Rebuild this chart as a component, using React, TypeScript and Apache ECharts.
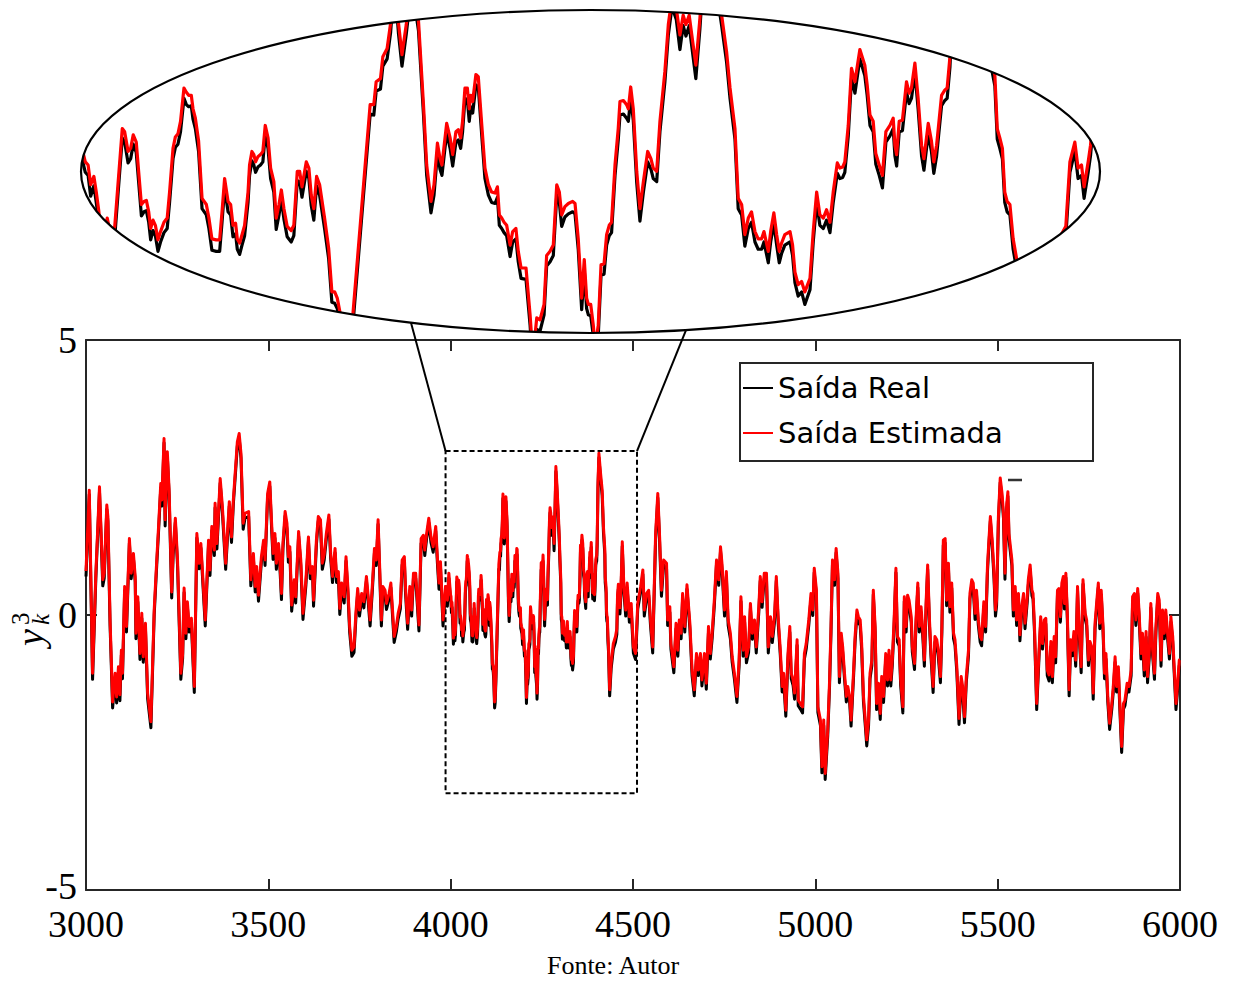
import React, { useEffect, useRef } from "react";
import * as echarts from "echarts";

// ---------------- DATA ----------------
const nomesSeries = ["Saída Real", "Saída Estimada"];
const textoFonte = "Fonte: Autor";
const eixoX = { min: 3000, max: 6000, passo: 500 };
const eixoY = { min: -5, max: 5, passo: 5 };
// region that is magnified (dashed rectangle) and the range shown inside the lens
const regiaoZoom = { x0: 3986, x1: 4511, y0: -3.24, y1: 2.98 };
const lenteX = [3997.6, 4471.6];
const lenteY = [-1.275, 1.83];

const saidaEstimada: [number, number][] = [
[3000,0.80],[3009,2.27],[3018,-1.06],[3027,0.76],[3037,2.33],[3046,0.64],[3050,0.76],[3057,2.00],[3060,1.79],[3066,-0.09],
[3073,-1.58],[3080,-1.06],[3084,-1.49],[3089,-0.94],[3093,-1.45],[3097,-0.64],[3100,-1.06],[3106,0.52],[3111,-0.21],[3119,1.39],
[3124,0.76],[3130,1.12],[3135,0.70],[3137,-0.33],[3142,0.33],[3148,-0.70],[3153,0.03],[3157,-0.76],[3163,-0.15],[3169,-1.42],
[3178,-1.94],[3187,0.09],[3194,1.00],[3199,1.61],[3205,2.39],[3208,2.09],[3214,3.21],[3217,1.73],[3223,2.97],[3228,2.27],
[3235,0.42],[3239,1.18],[3245,1.76],[3251,1.00],[3260,-1.06],[3265,-0.70],[3269,0.49],[3274,-0.33],[3278,0.24],[3283,-0.21],
[3289,-0.06],[3297,-1.30],[3304,1.48],[3310,0.94],[3315,1.30],[3327,-0.09],[3336,1.36],[3340,0.82],[3345,1.61],[3352,1.18],
[3354,2.03],[3359,1.30],[3368,2.48],[3374,1.97],[3383,0.94],[3393,2.06],[3399,1.42],[3404,2.09],[3415,3.15],[3420,3.30],
[3425,2.94],[3431,1.67],[3436,1.85],[3446,1.88],[3452,0.64],[3459,1.12],[3464,0.52],[3468,0.88],[3473,0.36],[3481,1.06],
[3487,1.36],[3491,1.00],[3498,2.21],[3504,2.42],
[3509,1.67],[3513,1.12],[3518,1.48],[3522,0.94],[3528,1.30],[3531,1.06],[3536,0.39],[3540,1.30],[3546,1.88],[3551,1.67],
[3555,1.06],[3559,1.24],[3564,0.18],[3571,0.64],[3575,0.33],[3583,1.52],[3589,1.00],[3595,0.03],[3603,0.64],[3610,1.42],
[3615,0.76],[3621,0.88],[3624,0.27],[3632,1.39],[3637,1.79],[3643,1.73],[3648,0.94],[3653,1.09],[3659,1.48],[3666,1.82],
[3671,1.12],[3676,0.70],[3683,1.21],[3687,0.70],[3692,0.79],[3696,0.12],[3701,0.58],[3708,0.33],[3713,1.06],[3718,0.52],
[3723,-0.21],[3729,-0.64],[3735,-0.58],[3740,0.03],[3745,0.48],[3750,0.09],[3756,0.39],[3762,0.24],[3769,0.70],[3774,0.33],
[3779,-0.09],[3785,0.52],[3791,1.21],[3796,1.00],[3801,1.73],[3805,0.94],[3810,-0.09],[3814,0.52],[3820,0.45],[3824,0.21],
[3831,0.39],[3836,0.58],[3840,0.15],[3845,-0.39],[3851,-0.21],[3856,0.03],[3862,0.21],[3867,1.00],[3873,1.06],[3876,0.52],
[3882,-0.15],[3888,0.52],[3893,0.09],[3898,0.76],[3904,0.76],[3913,-0.18],[3919,1.39],[3925,1.45],[3929,1.18],[3934,1.48],
[3940,1.76],[3946,1.42],[3952,1.24],[3959,1.61],[3964,1.00],[3968,0.58],[3972,0.97],[3979,-0.09],[3986,0.52],[3991,0.27],
[3995,0.76],
[3999.6,0.37],[4000.9,0.34],[4002.1,0.15],[4003.6,0.23],[4004.7,0.08],[4005.8,-0.09],[4007.5,-0.42],[4009.8,-0.17],[4011.7,-0.36],[4013.3,-0.25],
[4016.8,0.69],[4017.9,0.66],[4019.5,0.47],[4020.7,0.50],[4021.9,0.63],[4023.3,0.56],[4024.4,0.28],[4025.7,-0.04],[4026.9,-0.01],[4028.0,0.00],
[4029.1,-0.11],[4030.0,-0.27],[4031.1,-0.19],[4032.2,-0.24],[4033.4,-0.38],[4034.6,-0.30],[4036.2,-0.21],[4037.7,-0.17],[4038.8,0.08],[4040.4,0.50],
[4041.5,0.61],[4042.7,0.64],[4043.9,0.76],[4045.5,1.08],[4046.6,1.04],[4047.7,1.01],[4048.9,1.01],[4049.7,0.88],[4050.8,0.79],[4052.3,0.57],
[4053.9,0.02],[4055.9,-0.04],[4057.1,-0.17],[4058.5,-0.37],[4060.5,-0.38],[4062.1,-0.38],[4063.2,-0.11],[4064.4,0.21],[4066.0,-0.01],[4067.2,-0.04],
[4068.3,-0.24],[4069.5,-0.22],[4070.3,-0.37],[4071.4,-0.41],[4072.5,-0.33],[4073.7,-0.24],[4075.3,0.08],[4076.0,0.34],[4077.1,0.47],[4078.0,0.44],
[4078.8,0.37],[4079.9,0.42],[4081.1,0.44],[4082.2,0.47],[4083.3,0.72],[4084.6,0.60],[4085.8,0.31],[4087.3,0.18],[4088.4,-0.17],[4089.7,-0.04],
[4090.8,0.10],[4092.0,-0.08],[4093.5,-0.25],[4095.4,-0.29],[4096.6,-0.24],[4098.2,0.28],[4099.3,0.28],[4100.4,0.13],[4102.4,0.37],[4103.6,0.31],
[4104.7,0.05],[4105.9,-0.08],[4107.2,0.23],[4108.6,0.15],[4110.9,-0.17],[4112.8,-0.46],[4114.3,-0.88],[4115.6,-0.88],[4116.8,-0.94],[4118.2,-1.09],
[4120.5,-1.58],[4122.0,-1.50],[4124.1,-1.09],[4132.1,0.92],[4133.8,0.92],[4134.9,1.14],[4136.9,1.17],[4138.0,1.38],[4140.0,1.46],[4141.6,1.70],
[4143.4,2.20],[4145.3,1.70],[4146.9,1.40],[4148.9,1.69],[4151.5,2.15],[4154.6,1.72],[4156.9,0.92],[4158.4,0.34],[4160.4,-0.01],[4161.8,0.15],
[4163.4,0.55],[4164.6,0.40],[4165.5,0.34],[4167.7,0.74],[4169.3,0.60],[4170.5,0.44],[4172.0,0.66],[4173.1,0.68],[4174.2,0.60],[4175.1,0.76],
[4176.2,1.08],[4177.3,1.08],[4178.2,0.88],[4178.9,1.01],[4179.8,0.95],[4181.3,1.21],[4182.4,1.19],[4184.0,0.73],[4185.5,0.31],[4187.1,0.15],
[4188.6,0.08],[4190.2,0.07],[4191.3,0.13],[4192.2,-0.14],[4193.3,-0.17],[4194.4,-0.21],[4195.6,-0.24],[4197.2,-0.43],[4198.4,-0.30],[4199.9,-0.27],
[4201.0,-0.49],[4202.3,-0.65],[4204.6,-0.65],[4206.5,-1.10],[4207.8,-1.50],[4209.6,-1.13],[4211.1,-1.15],[4213.0,-1.00],[4214.2,-0.53],[4215.8,-0.49],
[4217.3,-0.43],[4218.9,0.15],[4220.1,0.08],[4221.2,-0.14],[4222.7,-0.06],[4224.3,-0.03],[4226.3,-0.01],[4227.4,-0.03],[4228.9,-0.37],[4230.5,-0.94],
[4231.7,-0.57],[4232.8,-0.94],[4233.6,-1.00],[4234.7,-1.00],[4235.9,-1.20],[4236.8,-1.42],[4238.2,-1.20],[4239.5,-0.62],[4240.9,-0.61],[4242.1,-0.33],
[4243.3,-0.24],[4244.4,-0.21],[4246.0,0.34],[4247.5,0.69],[4248.3,0.95],[4249.9,0.96],[4251.4,0.92],[4252.2,0.88],[4253.3,1.09],[4254.5,0.88],
[4256.1,0.28],[4257.6,-0.08],[4259.2,0.18],[4261.2,0.47],[4262.7,0.40],[4263.8,0.31],[4265.4,0.28],[4266.9,0.76],[4269.2,1.24],[4270.8,1.69],
[4272.5,1.95],[4274.5,1.85],[4276.2,1.59],[4277.7,1.78],[4279.0,1.69],[4280.5,1.78],[4283.6,1.30],[4285.5,1.75],[4288.5,2.70],[4291.5,2.35],
[4295.6,1.78],[4297.9,1.43],[4299.5,1.08],[4301.8,0.69],[4303.3,0.02],[4304.9,-0.04],[4306.4,-0.33],[4308.0,-0.17],[4309.5,-0.11],[4311.1,-0.30],
[4312.6,-0.37],[4314.2,-0.37],[4315.3,-0.30],[4317.3,-0.49],[4318.4,-0.30],[4319.9,-0.12],[4321.2,-0.33],[4322.4,-0.49],[4323.5,-0.41],[4325.0,-0.33],
[4327.4,-0.30],[4328.6,-0.43],[4329.7,-0.69],[4331.2,-0.81],[4332.8,-0.78],[4334.3,-0.88],[4336.7,-0.75],[4338.2,-0.30],[4339.8,0.08],[4341.3,-0.14],
[4342.9,-0.17],[4344.4,-0.09],[4346.0,-0.21],[4347.5,0.08],[4349.4,0.36],[4350.6,0.31],[4351.9,0.32],[4352.9,0.37],[4354.5,0.72],[4356.0,1.27],
[4357.6,1.14],[4359.9,1.45],[4362.2,1.30],[4363.3,1.11],[4364.6,0.82],[4366.1,0.76],[4367.3,0.45],[4368.9,0.34],[4370.4,0.24],[4372.0,0.66],
[4373.9,0.72],[4375.4,0.79],[4376.2,0.53],[4377.0,0.44],[4378.2,0.76],[4379.7,0.77],[4381.6,1.14],[4382.8,1.03],[4383.9,1.08],[4385.5,1.32],
[4387.0,0.98],[4388.6,0.53],[4389.7,0.40],[4391.7,0.74],[4393.2,0.57],[4394.3,0.37],[4395.6,0.53],[4397.9,1.01],[4399.4,1.06],[4400.5,1.08],
[4401.8,1.38],[4404.0,2.40],[4406.5,2.94],[4411.0,2.58],[4415.5,2.27],[4419.0,1.60],[4422.7,1.20],[4423.8,0.69],[4425.0,0.60],[4426.2,0.50],
[4427.3,0.08],[4428.4,-0.01],[4429.7,-0.04],[4431.2,-0.37],[4432.8,-0.56],[4436.0,-1.36],[4440.0,-0.88],[4446.0,-0.52],[4452.0,-0.39],[4455.7,-0.25],
[4457.6,0.37],[4459.9,0.56],[4461.4,0.31],[4463.0,0.34],[4464.2,0.13],[4466.1,0.37],[4467.2,0.53],
[4470.6,1.33],[4475,0.52],[4480,0.09],[4484,0.58],[4490,-0.03],[4495,0.21],[4501,-0.58],[4507,-0.70],[4513,0.21],[4521,0.52],
[4527,0.82],[4531,0.09],[4537,0.39],[4543,0.45],[4548,-0.09],[4554,-0.58],[4562,1.48],[4568,2.21],[4573,1.42],[4578,0.45],
[4584,1.00],[4592,0.94],[4595,-0.09],[4601,0.15],[4604,-0.52],[4612,-0.94],[4618,-0.15],[4623,-0.64],[4627,-0.09],[4632,-0.33],
[4636,0.39],[4642,-0.21],[4648,0.55],[4656,-0.15],[4662,-1.00],[4668,-1.36],[4674,-0.70],[4679,-1.00],[4685,-0.70],[4689,-1.18],
[4696,-0.70],[4701,-1.24],[4707,-0.21],[4712,-0.70],[4717,-0.33],[4723,0.27],[4729,1.00],[4735,0.64],[4740,1.24],[4744,0.94],
[4751,0.09],[4756,0.79],[4761,-0.09],[4767,-0.33],[4772,-0.76],[4778,-1.06],[4785,-1.48],[4791,-0.82],[4796,0.33],[4802,-0.64],
[4806,-0.03],[4811,-0.76],[4817,-0.58],[4822,0.21],[4827,-0.33],[4833,-0.09],[4838,-0.58],[4845,0.15],[4849,0.70],[4854,0.24],
[4860,0.76],[4866,0.76],[4871,-0.58],[4877,-0.03],[4882,-0.39],[4888,-0.03],[4893,0.70],[4898,-0.03],[4904,-0.64],[4909,-1.30],
[4913,-1.06],[4919,-1.73],[4925,-0.70],[4930,-0.21],[4934,-1.06],[4939,-1.18],[4943,-1.42],[4950,-0.45],[4953,-1.55],[4959,-1.61],
[4965,-1.67],[4970,-0.70],[4975,-0.52],[4982,-0.09],[4988,0.39],[4993,0.09],[4997,0.85],[5003,0.45],[5007,-1.67],[5014,-1.91],
[5018,-2.76],[5023,-1.91],[5027,-2.88],[5034,-2.10],[5039,-1.20],[5043,-0.21],[5047,1.00],[5053,0.64],[5057,1.21],[5062,0.76],
[5066,-1.12],[5071,-0.33],[5075,-0.58],[5080,-1.06],[5085,-1.48],[5089,-1.30],[5094,-1.48],[5098,-1.91],[5105,-1.00],[5109,-0.39],
[5114,0.09],[5118,-0.03],[5123,-0.09],[5127,-0.52],[5132,-1.48],[5137,-1.91],[5141,-2.27],[5146,-1.91],[5150,-1.06],[5155,-0.82],
[5159,0.45],[5164,-0.21],[5168,-1.61],[5173,-1.24],[5178,-1.79],[5182,-1.12],[5187,-1.48],[5193,-0.70],[5198,-1.18],[5202,-0.64],
[5207,-1.18],[5211,-0.82],[5216,-0.09],[5221,0.85],[5225,-0.39],[5230,-0.45],[5234,-1.18],[5240,-1.67],[5244,0.33],[5249,-0.21],
[5253,0.36],[5257,0.27],[5263,-0.03],[5266,-0.58],[5272,-0.88],[5276,-0.09],[5281,0.58],[5285,-0.21],[5290,0.15],[5295,-0.33],
[5299,-0.82],[5304,0.27],[5308,0.91],[5313,-0.09],[5317,-0.64],[5323,-1.30],[5328,-0.39],[5333,-0.45],[5337,-0.64],[5343,-1.12],
[5347,-0.21],[5351,1.36],[5356,1.39],[5360,0.27],[5365,0.94],[5369,0.15],[5374,0.58],[5379,-0.33],[5383,-0.45],[5388,-0.94],
[5394,-1.88],[5400,-1.12],[5404,-1.30],[5409,-1.85],[5414,-1.12],[5420,-0.64],[5424,0.39],[5429,0.64],[5433,0.58],[5438,0.03],
[5442,0.45],[5447,-0.09],[5452,-0.39],[5456,-0.45],[5462,0.24],[5467,-0.21],[5472,0.88],[5476,1.36],[5480,1.79],[5485,1.36],
[5490,0.76],[5494,0.09],[5497,0.27],[5502,1.79],[5507,2.49],[5512,2.21],[5516,1.85],[5520,0.76],[5525,2.03],[5528,2.24],
[5531,1.48],[5535,1.24],[5539,1.00],[5543,0.09],[5548,0.52],[5552,-0.09],[5557,0.39],[5561,-0.36],[5566,0.15],[5571,0.39],
[5575,-0.15],[5581,0.33],[5584,0.64],[5589,0.91],[5594,0.45],[5597,0.39],[5601,-0.21],[5607,-1.61],[5614,-0.58],[5618,-0.03],
[5623,-0.52],[5628,-0.09],[5632,-0.06],[5636,-1.00],[5641,-1.09],[5646,-0.48],[5650,-1.12],[5655,-0.39],[5659,-0.76],[5664,0.45],
[5668,0.48],[5672,-0.03],[5676,0.58],[5680,0.70],[5683,0.21],[5687,0.76],[5691,0.03],[5696,-1.36],[5700,-0.45],[5705,-0.64],
[5709,-0.30],[5714,-0.82],[5719,0.52],[5723,-0.21],[5729,-0.94],[5734,0.64],[5740,0.03],[5744,-0.09],[5749,-0.82],[5753,-0.48],
[5758,-0.58],[5762,-1.42],[5767,-0.15],[5772,0.27],[5776,0.58],[5780,-0.15],[5784,0.45],[5789,-0.21],[5793,-1.06],[5797,-0.70],
[5802,-1.48],[5807,-1.97],[5813,-1.61],[5817,-1.30],[5822,-0.76],[5826,-1.30],[5831,-0.94],[5835,-1.61],[5840,-2.39],[5845,-1.61],
[5849,-1.55],[5855,-1.24],[5860,-1.30],[5866,-1.00],[5870,0.33],[5875,0.39],[5879,-0.09],[5884,0.48],[5888,0.03],[5893,-0.70],
[5897,-0.33],[5902,-1.00],[5907,-0.30],[5911,-1.12],[5916,-0.64],[5920,0.21],[5925,-0.64],[5930,-1.06],[5934,-0.21],[5939,0.39],
[5943,0.27],[5948,-0.82],[5952,0.09],[5957,-0.33],[5961,0.09],[5966,-0.33],[5971,-0.70],[5975,-0.03],[5980,-0.39],[5984,-0.94],
[5989,-1.61],[5993,-1.30],[5998,-0.82],[6000,-0.82]
];

const saidaReal: [number, number][] = [
[3000,0.70],[3009,2.19],[3018,-1.17],[3027,0.67],[3037,2.25],[3046,0.53],[3050,0.67],[3057,1.92],[3060,1.70],[3066,-0.19],
[3073,-1.69],[3080,-1.15],[3084,-1.60],[3089,-1.03],[3093,-1.56],[3097,-0.73],[3100,-1.16],[3106,0.44],[3111,-0.31],[3119,1.31],
[3124,0.66],[3130,1.04],[3135,0.60],[3137,-0.43],[3142,0.24],[3148,-0.81],[3153,-0.06],[3157,-0.86],[3163,-0.24],[3169,-1.52],
[3178,-2.05],[3187,0.00],[3194,0.91],[3199,1.52],[3205,2.31],[3208,1.98],[3214,3.13],[3217,1.62],[3223,2.89],[3228,2.17],
[3235,0.31],[3239,1.09],[3245,1.68],[3251,0.90],[3260,-1.17],[3265,-0.79],[3269,0.41],[3274,-0.43],[3278,0.15],[3283,-0.31],
[3289,-0.15],[3297,-1.41],[3304,1.40],[3310,0.84],[3315,1.22],[3327,-0.20],[3336,1.28],[3340,0.72],[3345,1.53],[3352,1.08],
[3354,1.95],[3359,1.20],[3368,2.40],[3374,1.87],[3383,0.83],[3393,1.98],[3399,1.32],[3404,2.01],[3415,3.07],[3420,3.22],
[3425,2.85],[3431,1.56],[3436,1.76],[3446,1.79],[3452,0.53],[3459,1.03],[3464,0.42],[3468,0.79],[3473,0.25],[3481,0.97],
[3487,1.28],[3491,0.90],[3498,2.13],[3504,2.34],
[3509,1.57],[3513,1.01],[3518,1.40],[3522,0.83],[3528,1.21],[3531,0.96],[3536,0.28],[3540,1.20],[3546,1.80],[3551,1.57],
[3555,0.96],[3559,1.15],[3564,0.07],[3571,0.55],[3575,0.22],[3583,1.44],[3589,0.90],[3595,-0.08],[3603,0.54],[3610,1.34],
[3615,0.66],[3621,0.79],[3624,0.16],[3632,1.29],[3637,1.71],[3643,1.63],[3648,0.83],[3653,0.99],[3659,1.38],[3666,1.74],
[3671,1.02],[3676,0.59],[3683,1.13],[3687,0.59],[3692,0.70],[3696,0.01],[3701,0.48],[3708,0.22],[3713,0.98],[3718,0.42],
[3723,-0.31],[3729,-0.75],[3735,-0.68],[3740,-0.07],[3745,0.40],[3750,-0.02],[3756,0.30],[3762,0.13],[3769,0.62],[3774,0.23],
[3779,-0.20],[3785,0.42],[3791,1.13],[3796,0.90],[3801,1.65],[3805,0.84],[3810,-0.20],[3814,0.43],[3820,0.35],[3824,0.10],
[3831,0.29],[3836,0.50],[3840,0.05],[3845,-0.50],[3851,-0.31],[3856,-0.07],[3862,0.11],[3867,0.91],[3873,0.98],[3876,0.42],
[3882,-0.26],[3888,0.44],[3893,-0.02],[3898,0.67],[3904,0.67],[3913,-0.29],[3919,1.30],[3925,1.37],[3929,1.08],[3934,1.39],
[3940,1.68],[3946,1.32],[3952,1.14],[3959,1.53],[3964,0.90],[3968,0.47],[3972,0.88],[3979,-0.20],[3986,0.43],[3991,0.16],
[3995,0.67],
[3999.6,0.27],[4000.9,0.24],[4002.1,0.04],[4003.6,0.14],[4004.7,-0.02],[4005.8,-0.19],[4007.5,-0.53],[4009.8,-0.27],[4011.7,-0.47],[4013.3,-0.35],
[4016.8,0.60],[4017.9,0.56],[4019.5,0.36],[4020.7,0.40],[4021.9,0.54],[4023.3,0.46],[4024.4,0.18],[4025.7,-0.15],[4026.9,-0.11],[4028.0,-0.10],
[4029.1,-0.21],[4030.0,-0.38],[4031.1,-0.29],[4032.2,-0.34],[4033.4,-0.49],[4034.6,-0.40],[4036.2,-0.31],[4037.7,-0.27],[4038.8,-0.02],[4040.4,0.40],
[4041.5,0.51],[4042.7,0.54],[4043.9,0.66],[4045.5,0.98],[4046.6,0.92],[4047.7,0.90],[4048.9,0.91],[4049.7,0.78],[4050.8,0.69],[4052.3,0.47],
[4053.9,-0.08],[4055.9,-0.14],[4057.1,-0.27],[4058.5,-0.48],[4060.5,-0.49],[4062.1,-0.49],[4063.2,-0.21],[4064.4,0.12],[4066.0,-0.11],[4067.2,-0.14],
[4068.3,-0.35],[4069.5,-0.32],[4070.3,-0.47],[4071.4,-0.52],[4072.5,-0.43],[4073.7,-0.34],[4075.3,-0.02],[4076.0,0.24],[4077.1,0.38],[4078.0,0.34],
[4078.8,0.27],[4079.9,0.32],[4081.1,0.34],[4082.2,0.37],[4083.3,0.63],[4084.6,0.50],[4085.8,0.21],[4087.3,0.08],[4088.4,-0.28],[4089.7,-0.14],
[4090.8,0.01],[4092.0,-0.18],[4093.5,-0.35],[4095.4,-0.40],[4096.6,-0.34],[4098.2,0.19],[4099.3,0.18],[4100.4,0.03],[4102.4,0.28],[4103.6,0.21],
[4104.7,-0.05],[4105.9,-0.19],[4107.2,0.14],[4108.6,0.05],[4110.9,-0.27],[4112.8,-0.56],[4114.3,-0.98],[4115.6,-0.99],[4116.8,-1.04],[4118.2,-1.19],
[4120.5,-1.69],[4122.0,-1.60],[4124.1,-1.19],[4132.1,0.83],[4133.8,0.82],[4134.9,1.05],[4136.9,1.07],[4138.0,1.29],[4140.0,1.36],[4141.6,1.61],
[4143.4,2.12],[4145.3,1.60],[4146.9,1.29],[4148.9,1.60],[4151.5,2.07],[4154.6,1.63],[4156.9,0.83],[4158.4,0.24],[4160.4,-0.12],[4161.8,0.05],
[4163.4,0.46],[4164.6,0.30],[4165.5,0.24],[4167.7,0.65],[4169.3,0.50],[4170.5,0.33],[4172.0,0.56],[4173.1,0.58],[4174.2,0.50],[4175.1,0.66],
[4176.2,0.98],[4177.3,0.97],[4178.2,0.76],[4178.9,0.90],[4179.8,0.84],[4181.3,1.11],[4182.4,1.09],[4184.0,0.63],[4185.5,0.21],[4187.1,0.05],
[4188.6,-0.02],[4190.2,-0.03],[4191.3,0.03],[4192.2,-0.24],[4193.3,-0.27],[4194.4,-0.31],[4195.6,-0.34],[4197.2,-0.54],[4198.4,-0.40],[4199.9,-0.37],
[4201.0,-0.59],[4202.3,-0.75],[4204.6,-0.76],[4206.5,-1.20],[4207.8,-1.61],[4209.6,-1.24],[4211.1,-1.26],[4213.0,-1.10],[4214.2,-0.63],[4215.8,-0.59],
[4217.3,-0.53],[4218.9,0.05],[4220.1,-0.02],[4221.2,-0.25],[4222.7,-0.16],[4224.3,-0.13],[4226.3,-0.11],[4227.4,-0.13],[4228.9,-0.47],[4230.5,-1.05],
[4231.7,-0.67],[4232.8,-1.04],[4233.6,-1.10],[4234.7,-1.11],[4235.9,-1.30],[4236.8,-1.53],[4238.2,-1.30],[4239.5,-0.72],[4240.9,-0.71],[4242.1,-0.43],
[4243.3,-0.34],[4244.4,-0.31],[4246.0,0.24],[4247.5,0.58],[4248.3,0.82],[4249.9,0.83],[4251.4,0.79],[4252.2,0.76],[4253.3,0.98],[4254.5,0.77],
[4256.1,0.17],[4257.6,-0.20],[4259.2,0.08],[4261.2,0.37],[4262.7,0.30],[4263.8,0.21],[4265.4,0.18],[4266.9,0.66],[4269.2,1.14],[4270.8,1.59],
[4272.5,1.86],[4274.5,1.74],[4276.2,1.45],[4277.7,1.68],[4279.0,1.58],[4280.5,1.68],[4283.6,1.17],[4285.5,1.65],[4288.5,2.61],[4291.5,2.25],
[4295.6,1.68],[4297.9,1.33],[4299.5,0.98],[4301.8,0.59],[4303.3,-0.08],[4304.9,-0.14],[4306.4,-0.44],[4308.0,-0.27],[4309.5,-0.21],[4311.1,-0.40],
[4312.6,-0.47],[4314.2,-0.47],[4315.3,-0.40],[4317.3,-0.60],[4318.4,-0.40],[4319.9,-0.22],[4321.2,-0.43],[4322.4,-0.60],[4323.5,-0.51],[4325.0,-0.43],
[4327.4,-0.40],[4328.6,-0.53],[4329.7,-0.79],[4331.2,-0.92],[4332.8,-0.88],[4334.3,-1.00],[4336.7,-0.86],[4338.2,-0.40],[4339.8,-0.02],[4341.3,-0.24],
[4342.9,-0.27],[4344.4,-0.19],[4346.0,-0.31],[4347.5,-0.02],[4349.4,0.26],[4350.6,0.21],[4351.9,0.22],[4352.9,0.27],[4354.5,0.62],[4356.0,1.17],
[4357.6,1.03],[4359.9,1.36],[4362.2,1.20],[4363.3,1.01],[4364.6,0.72],[4366.1,0.66],[4367.3,0.35],[4368.9,0.24],[4370.4,0.12],[4372.0,0.56],
[4373.9,0.62],[4375.4,0.69],[4376.2,0.43],[4377.0,0.33],[4378.2,0.66],[4379.7,0.67],[4381.6,1.04],[4382.8,0.93],[4383.9,0.98],[4385.5,1.23],
[4387.0,0.88],[4388.6,0.43],[4389.7,0.29],[4391.7,0.64],[4393.2,0.47],[4394.3,0.26],[4395.6,0.43],[4397.9,0.91],[4399.4,0.96],[4400.5,0.98],
[4401.8,1.28],[4404.0,2.31],[4406.5,2.86],[4411.0,2.48],[4415.5,2.17],[4419.0,1.50],[4422.7,1.10],[4423.8,0.59],[4425.0,0.50],[4426.2,0.40],
[4427.3,-0.02],[4428.4,-0.11],[4429.7,-0.14],[4431.2,-0.47],[4432.8,-0.66],[4436.0,-1.47],[4440.0,-0.98],[4446.0,-0.62],[4452.0,-0.49],[4455.7,-0.35],
[4457.6,0.27],[4459.9,0.47],[4461.4,0.21],[4463.0,0.24],[4464.2,0.02],[4466.1,0.27],[4467.2,0.43],
[4470.6,1.25],[4475,0.42],[4480,-0.02],[4484,0.49],[4490,-0.13],[4495,0.11],[4501,-0.69],[4507,-0.81],[4513,0.11],[4521,0.42],
[4527,0.74],[4531,-0.02],[4537,0.29],[4543,0.36],[4548,-0.19],[4554,-0.69],[4562,1.38],[4568,2.13],[4573,1.32],[4578,0.34],
[4584,0.91],[4592,0.84],[4595,-0.19],[4601,0.05],[4604,-0.62],[4612,-1.05],[4618,-0.25],[4623,-0.75],[4627,-0.19],[4632,-0.43],
[4636,0.30],[4642,-0.31],[4648,0.47],[4656,-0.25],[4662,-1.10],[4668,-1.47],[4674,-0.80],[4679,-1.10],[4685,-0.80],[4689,-1.29],
[4696,-0.80],[4701,-1.35],[4707,-0.31],[4712,-0.80],[4717,-0.43],[4723,0.17],[4729,0.92],[4735,0.54],[4740,1.16],[4744,0.84],
[4751,-0.02],[4756,0.70],[4761,-0.19],[4767,-0.43],[4772,-0.86],[4778,-1.16],[4785,-1.59],[4791,-0.92],[4796,0.25],[4802,-0.75],
[4806,-0.13],[4811,-0.87],[4817,-0.68],[4822,0.12],[4827,-0.44],[4833,-0.19],[4838,-0.69],[4845,0.05],[4849,0.62],[4854,0.14],
[4860,0.67],[4866,0.66],[4871,-0.69],[4877,-0.13],[4882,-0.50],[4888,-0.13],[4893,0.62],[4898,-0.13],[4904,-0.74],[4909,-1.40],
[4913,-1.16],[4919,-1.84],[4925,-0.80],[4930,-0.31],[4934,-1.16],[4939,-1.28],[4943,-1.53],[4950,-0.55],[4953,-1.65],[4959,-1.71],
[4965,-1.78],[4970,-0.80],[4975,-0.62],[4982,-0.19],[4988,0.30],[4993,-0.01],[4997,0.77],[5003,0.35],[5007,-1.77],[5014,-2.01],
[5018,-2.87],[5023,-2.01],[5027,-2.99],[5034,-2.20],[5039,-1.30],[5043,-0.31],[5047,0.92],[5053,0.54],[5057,1.13],[5062,0.66],
[5066,-1.23],[5071,-0.43],[5075,-0.68],[5080,-1.16],[5085,-1.58],[5089,-1.40],[5094,-1.58],[5098,-2.02],[5105,-1.10],[5109,-0.49],
[5114,0.00],[5118,-0.13],[5123,-0.19],[5127,-0.62],[5132,-1.58],[5137,-2.01],[5141,-2.38],[5146,-2.01],[5150,-1.16],[5155,-0.92],
[5159,0.37],[5164,-0.31],[5168,-1.72],[5173,-1.34],[5178,-1.90],[5182,-1.22],[5187,-1.59],[5193,-0.80],[5198,-1.29],[5202,-0.74],
[5207,-1.29],[5211,-0.92],[5216,-0.19],[5221,0.77],[5225,-0.49],[5230,-0.56],[5234,-1.28],[5240,-1.78],[5244,0.25],[5249,-0.31],
[5253,0.28],[5257,0.17],[5263,-0.13],[5266,-0.68],[5272,-0.99],[5276,-0.19],[5281,0.50],[5285,-0.31],[5290,0.05],[5295,-0.43],
[5299,-0.93],[5304,0.17],[5308,0.83],[5313,-0.19],[5317,-0.74],[5323,-1.41],[5328,-0.49],[5333,-0.55],[5337,-0.74],[5343,-1.23],
[5347,-0.31],[5351,1.27],[5356,1.31],[5360,0.17],[5365,0.86],[5369,0.05],[5374,0.49],[5379,-0.43],[5383,-0.55],[5388,-1.04],
[5394,-1.99],[5400,-1.22],[5404,-1.40],[5409,-1.96],[5414,-1.22],[5420,-0.74],[5424,0.29],[5429,0.55],[5433,0.48],[5438,-0.08],
[5442,0.36],[5447,-0.19],[5452,-0.49],[5456,-0.56],[5462,0.15],[5467,-0.31],[5472,0.78],[5476,1.27],[5480,1.71],[5485,1.26],
[5490,0.66],[5494,-0.02],[5497,0.17],[5502,1.69],[5507,2.41],[5512,2.11],[5516,1.75],[5520,0.65],[5525,1.95],[5528,2.16],
[5531,1.38],[5535,1.14],[5539,0.90],[5543,-0.02],[5548,0.42],[5552,-0.19],[5557,0.30],[5561,-0.47],[5566,0.05],[5571,0.30],
[5575,-0.25],[5581,0.23],[5584,0.54],[5589,0.83],[5594,0.35],[5597,0.29],[5601,-0.31],[5607,-1.72],[5614,-0.68],[5618,-0.13],
[5623,-0.62],[5628,-0.19],[5632,-0.16],[5636,-1.10],[5641,-1.20],[5646,-0.58],[5650,-1.23],[5655,-0.49],[5659,-0.87],[5664,0.36],
[5668,0.40],[5672,-0.13],[5676,0.48],[5680,0.62],[5683,0.11],[5687,0.68],[5691,-0.07],[5696,-1.47],[5700,-0.55],[5705,-0.74],
[5709,-0.40],[5714,-0.93],[5719,0.44],[5723,-0.31],[5729,-1.05],[5734,0.56],[5740,-0.07],[5744,-0.19],[5749,-0.92],[5753,-0.58],
[5758,-0.68],[5762,-1.53],[5767,-0.25],[5772,0.17],[5776,0.50],[5780,-0.25],[5784,0.37],[5789,-0.31],[5793,-1.16],[5797,-0.80],
[5802,-1.58],[5807,-2.08],[5813,-1.71],[5817,-1.40],[5822,-0.86],[5826,-1.40],[5831,-1.04],[5835,-1.71],[5840,-2.50],[5845,-1.71],
[5849,-1.65],[5855,-1.34],[5860,-1.40],[5866,-1.10],[5870,0.23],[5875,0.31],[5879,-0.19],[5884,0.40],[5888,-0.07],[5893,-0.80],
[5897,-0.43],[5902,-1.11],[5907,-0.40],[5911,-1.23],[5916,-0.74],[5920,0.13],[5925,-0.74],[5930,-1.17],[5934,-0.31],[5939,0.31],
[5943,0.17],[5948,-0.93],[5952,-0.01],[5957,-0.43],[5961,-0.01],[5966,-0.43],[5971,-0.80],[5975,-0.13],[5980,-0.49],[5984,-1.04],
[5989,-1.72],[5993,-1.40],[5998,-0.92],[6000,-0.92]
];

// ---------------- LAYOUT ----------------
const W = 1235;
const H = 981;
const G = { left: 86, top: 340, right: 1180, bottom: 890 };
const E = { cx: 590.5, cy: 171.5, rx: 509.5, ry: 161.5 };
const corEixo = "#262626";
const serif = '"Liberation Serif", "DejaVu Serif", serif';

function caminhoMascara(): string {
  const L = 78, T = 2, R = 1110, B = 336;
  let d = `M${L} ${T}L${R} ${T}L${R} ${B}L${L} ${B}Z`;
  const n = 360;
  for (let i = 0; i <= n; i++) {
    const t = (i / n) * Math.PI * 2;
    const x = E.cx + E.rx * Math.cos(t);
    const y = E.cy - E.ry * Math.sin(t);
    d += (i === 0 ? "M" : "L") + x.toFixed(2) + " " + y.toFixed(2);
  }
  return d + "Z";
}
echarts.graphic.registerShape("mascara", echarts.graphic.extendPath(caminhoMascara(), {}) as any);

function yElipseInferior(x: number): number {
  const u = (x - E.cx) / E.rx;
  return E.cy + E.ry * Math.sqrt(Math.max(0, 1 - u * u));
}

export default function App() {
  const ref = useRef<HTMLDivElement>(null);
  useEffect(() => {
    if (!ref.current) return;
    const chart = echarts.init(ref.current, undefined, { renderer: "svg" });
    const eixoLinha = { show: true, onZero: false, lineStyle: { color: corEixo, width: 2 } };
    const eixoTick = { show: true, inside: true, length: 11, lineStyle: { color: corEixo, width: 2 } };
    const rotulo = { fontFamily: serif, fontSize: 38, color: "#000", lineHeight: 30 };
    const linha = (name: string, data: any, cor: string, xi: number, yi: number, w: number, z: number, extra: any = {}) => ({
      name, type: "line", data, xAxisIndex: xi, yAxisIndex: yi, symbol: "none", showSymbol: false,
      lineStyle: { color: cor, width: w, join: "round" }, itemStyle: { color: cor }, z, silent: true, clip: true, ...extra,
    });
    const option: any = {
      animation: false,
      grid: [
        { left: G.left, top: G.top, width: G.right - G.left, height: G.bottom - G.top },
        { left: E.cx - E.rx, top: E.cy - E.ry, width: 2 * E.rx, height: 2 * E.ry },
      ],
      xAxis: [
        { gridIndex: 0, type: "value", min: eixoX.min, max: eixoX.max, interval: eixoX.passo, position: "bottom",
          axisLine: eixoLinha, axisTick: eixoTick, splitLine: { show: false },
          axisLabel: { ...rotulo, margin: 19, formatter: (v: number) => String(v) } },
        { gridIndex: 0, type: "value", min: eixoX.min, max: eixoX.max, interval: eixoX.passo, position: "top",
          axisLine: eixoLinha, axisTick: eixoTick, splitLine: { show: false }, axisLabel: { show: false } },
        { gridIndex: 1, type: "value", min: lenteX[0], max: lenteX[1], show: false, splitLine: { show: false } },
      ],
      yAxis: [
        { gridIndex: 0, type: "value", min: eixoY.min, max: eixoY.max, interval: eixoY.passo, position: "left",
          axisLine: eixoLinha, axisTick: eixoTick, splitLine: { show: false },
          axisLabel: {
            ...rotulo, margin: 9,
            formatter: (v: number) => (v === eixoY.min ? `{baixo|${v}}` : String(v)),
            rich: { baixo: { fontFamily: serif, fontSize: 38, color: "#000", lineHeight: 30, padding: [0, 0, 8, 0] } },
          } },
        { gridIndex: 0, type: "value", min: eixoY.min, max: eixoY.max, interval: eixoY.passo, position: "right",
          axisLine: eixoLinha, axisTick: eixoTick, splitLine: { show: false }, axisLabel: { show: false } },
        { gridIndex: 1, type: "value", min: lenteY[0], max: lenteY[1], show: false, splitLine: { show: false } },
      ],
      legend: {
        data: nomesSeries, left: 743, top: 371, orient: "vertical", icon: "rect",
        itemWidth: 30, itemHeight: 2, itemGap: 11, padding: 0, z: 20, selectedMode: false,
        textStyle: { fontFamily: '"DejaVu Sans", sans-serif', fontSize: 29, color: "#000", lineHeight: 34 },
      },
      series: [
        linha(nomesSeries[0], saidaReal, "#000000", 0, 0, 3, 2),
        linha(nomesSeries[1], saidaEstimada, "#ff0000", 0, 0, 3, 3, {
          markArea: {
            silent: true, label: { show: false },
            itemStyle: { color: "rgba(0,0,0,0)", borderColor: "#000", borderWidth: 2, borderType: [5, 3] },
            data: [[{ coord: [regiaoZoom.x0, regiaoZoom.y1] }, { coord: [regiaoZoom.x1, regiaoZoom.y0] }]],
          },
        }),
        linha(nomesSeries[0], saidaReal, "#000000", 2, 2, 3.2, 2),
        linha(nomesSeries[1], saidaEstimada, "#ff0000", 2, 2, 3.2, 3),
      ],
    };
    chart.setOption(option);

    const tl = chart.convertToPixel({ xAxisIndex: 0, yAxisIndex: 0 } as any, [regiaoZoom.x0, regiaoZoom.y1]) as number[];
    const tr = chart.convertToPixel({ xAxisIndex: 0, yAxisIndex: 0 } as any, [regiaoZoom.x1, regiaoZoom.y1]) as number[];
    const pL = [411, yElipseInferior(411)];
    const pR = [686, yElipseInferior(686)];

    const txt = (text: string, x: number, y: number, font: string, align = "left", extra: any = {}) => ({
      type: "text", x, y,
      style: { text, font, fill: "#000", align, verticalAlign: "middle", textAlign: align, textVerticalAlign: "middle", ...extra },
    });

    chart.setOption({
      graphic: [
        { type: "mascara", x: 0, y: 0, z: 100, silent: true, style: { fill: "#ffffff", stroke: "none" } },
        { type: "ellipse", z: 101, silent: true, shape: { cx: E.cx, cy: E.cy, rx: E.rx, ry: E.ry },
          style: { fill: "none", stroke: "#000", lineWidth: 2.2 } },
        { type: "line", z: 101, silent: true, shape: { x1: pL[0], y1: pL[1], x2: tl[0], y2: tl[1] },
          style: { stroke: "#000", lineWidth: 2 } },
        { type: "line", z: 101, silent: true, shape: { x1: pR[0], y1: pR[1], x2: tr[0], y2: tr[1] },
          style: { stroke: "#000", lineWidth: 2 } },
        { type: "rect", z: 10, silent: true, shape: { x: 740, y: 363, width: 353, height: 98 },
          style: { fill: "#ffffff", stroke: corEixo, lineWidth: 2 } },
        { type: "line", z: 10, silent: true, shape: { x1: 1008, y1: 480, x2: 1022, y2: 480 },
          style: { stroke: "#333", lineWidth: 2.5 } },
        {
          type: "group", x: 41, y: 646, rotation: Math.PI / 2, z: 10, silent: true,
          children: [
            txt("y", 0, -11, `italic 38px ${serif}`),
            txt("k", 21, -1, `italic 25px ${serif}`),
            txt("3", 21, -21, `25px ${serif}`),
          ],
        },
        { ...txt(textoFonte, 613, 965, `26px ${serif}`, "center"), z: 10, silent: true },
      ],
    });

    return () => chart.dispose();
  }, []);
  return <div ref={ref} style={{ position: "absolute", left: 0, top: 0, width: W, height: H }} />;
}
